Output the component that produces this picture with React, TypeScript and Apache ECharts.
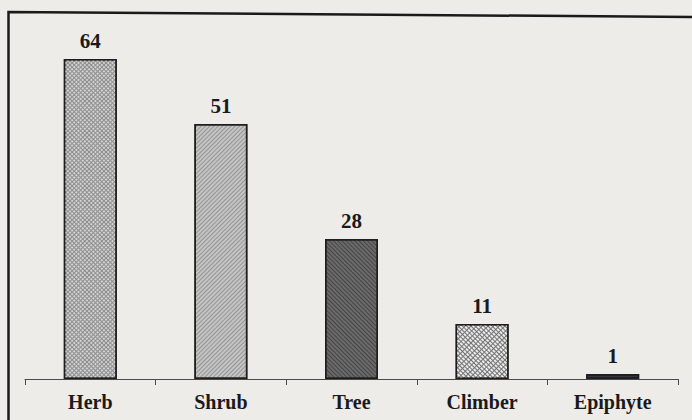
import React, { useEffect, useRef } from "react";
import * as echarts from "echarts";

const categories = ["Herb", "Shrub", "Tree", "Climber", "Epiphyte"];
const values = [64, 51, 28, 11, 1];

const barStyles = [
  {
    color: "#8e8e8e",
    decal: { symbol: "rect", symbolSize: 1, dashArrayX: [2, 1], dashArrayY: [2, 1], rotation: Math.PI / 4, color: "rgba(255,255,255,0.6)" },
  },
  {
    color: "#c4c4c4",
    decal: { symbol: "rect", symbolSize: 1, dashArrayX: [1, 0], dashArrayY: [1, 2], rotation: -Math.PI / 4, color: "rgba(90,90,90,0.45)" },
  },
  {
    color: "#6a6a6a",
    decal: { symbol: "rect", symbolSize: 1, dashArrayX: [1, 0], dashArrayY: [1, 2], rotation: Math.PI / 4, color: "rgba(40,40,40,0.55)" },
  },
  {
    color: "#737373",
    decal: { symbol: "rect", symbolSize: 1, dashArrayX: [3, 1], dashArrayY: [2, 1], rotation: Math.PI / 4, color: "rgba(255,255,255,0.85)" },
  },
  {
    color: "#2a2a38",
    decal: { symbol: "rect", symbolSize: 1, dashArrayX: [1, 0], dashArrayY: [1, 3], rotation: 0, color: "rgba(60,60,90,0.5)" },
  },
];

export default function App() {
  const ref = useRef<HTMLDivElement>(null);
  useEffect(() => {
    if (!ref.current) return;
    const chart = echarts.init(ref.current, null, { renderer: "svg" });
    const font = '"Liberation Serif", "DejaVu Serif", serif';
    chart.setOption({
      animation: false,
      backgroundColor: "#eeece9",
      aria: { enabled: true, decal: { show: true } },
      grid: { left: 25, right: 14, top: 59, bottom: 41 },
      xAxis: {
        type: "category",
        data: categories,
        axisLine: { lineStyle: { color: "#4a4a4a", width: 1 } },
        axisTick: { show: true, length: 6, lineStyle: { color: "#4a4a4a" } },
        axisLabel: {
          margin: 13,
          color: "#1a1a1a",
          fontFamily: font,
          fontWeight: "bold",
          fontSize: 20,
        },
      },
      yAxis: {
        type: "value",
        min: 0,
        max: 64,
        show: false,
        splitLine: { show: false },
      },
      series: [
        {
          type: "bar",
          barWidth: 53,
          data: values.map((v, i) => ({
            value: v,
            itemStyle: {
              color: barStyles[i].color,
              decal: barStyles[i].decal,
              borderColor: "#1e1e1e",
              borderWidth: 1.5,
            },
          })),
          label: {
            show: true,
            position: "top",
            distance: 8,
            color: "#1a1a1a",
            fontFamily: font,
            fontWeight: "bold",
            fontSize: 21,
          },
        },
      ],
      graphic: [
        {
          type: "polyline",
          silent: true,
          shape: { points: [[8.5, 440], [8.5, 12], [700, 17]] },
          style: { stroke: "#1a1a1a", lineWidth: 2.5, fill: "none" },
        },
      ],
    });
    return () => chart.dispose();
  }, []);
  return (
    <div
      ref={ref}
      style={{ position: "fixed", left: 0, top: 0, width: 692, height: 420 }}
    />
  );
}
